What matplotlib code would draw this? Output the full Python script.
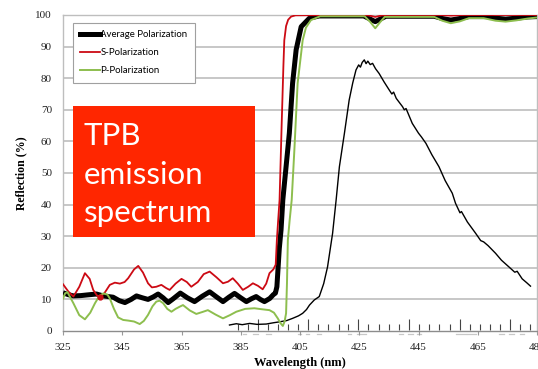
import matplotlib
matplotlib.use("Agg")
import matplotlib.pyplot as plt
from matplotlib.lines import Line2D
from matplotlib.patches import Rectangle

# ---------------- data ----------------
s_wl = [325.0, 326.8, 328.5, 330.5, 332.4, 334.0, 335.2, 336.5, 337.5, 339.0, 340.8, 342.5, 344.2,
        345.8, 347.0, 349.0, 350.4, 352.0, 353.7, 355.0, 356.5, 358.2, 359.8, 361.0, 363.0, 365.0,
        366.8, 368.3, 370.5, 372.5, 374.5, 376.8, 379.0, 380.7, 382.3, 384.0, 385.7, 387.5, 389.1,
        390.8, 392.4, 393.6, 394.7, 396.0, 396.8, 397.2, 397.7, 398.1, 398.8, 399.4, 399.7, 400.3,
        401.0, 402.0, 403.5, 427.0, 428.5, 430.4, 432.3, 434.0, 452.0, 456.0, 460.0, 485.0]
s_val = [14.8, 12.5, 10.9, 14.0, 18.3, 16.5, 13.0, 11.2, 10.7, 12.0, 14.6, 15.3, 15.0,
         15.5, 16.7, 19.5, 20.6, 18.5, 15.1, 13.8, 14.0, 14.6, 13.6, 13.0, 15.0, 16.5,
         15.5, 14.0, 15.5, 18.0, 18.8, 17.0, 15.1, 15.6, 16.7, 15.0, 13.0, 14.0, 15.1,
         14.3, 13.2, 15.0, 18.3, 19.5, 21.0, 29.0, 36.0, 41.5, 65.0, 84.0, 92.0, 96.5,
         98.5, 99.5, 99.9, 100.0, 99.8, 99.4, 99.8, 100.0, 100.0, 99.8, 100.0, 100.0]

avg_wl = [325.0, 326.8, 328.5, 331.0, 333.0, 336.3, 338.6, 341.9, 344.0, 345.9, 348.0, 349.8, 351.8,
          353.7, 355.5, 357.1, 358.8, 360.5, 362.2, 364.6, 367.0, 369.4, 372.0, 374.5, 376.8, 379.0,
          381.0, 382.9, 385.0, 386.9, 388.6, 390.2, 391.6, 393.0, 394.8, 396.0, 396.7, 397.2, 397.6,
          398.0, 398.6, 399.2, 400.3, 401.4, 402.5, 403.7, 405.4, 408.2, 411.5, 426.5, 428.5, 430.4,
          432.3, 434.0, 450.3, 453.0, 455.9, 459.0, 462.0, 468.0, 471.0, 474.4, 478.0, 482.0, 485.0]
avg_val = [12.1, 11.5, 11.1, 11.2, 11.4, 11.7, 11.1, 10.7, 9.6, 9.0, 10.0, 11.1, 10.5,
           10.0, 10.8, 11.7, 10.5, 9.0, 10.2, 12.0, 10.5, 9.3, 11.0, 12.4, 10.8, 9.3,
           10.7, 11.9, 10.5, 9.3, 10.2, 10.9, 10.0, 9.3, 10.3, 11.5, 12.0, 14.0, 20.0,
           26.0, 32.0, 41.5, 52.0, 62.6, 78.4, 89.0, 96.3, 99.0, 99.7, 99.7, 98.8, 97.9,
           98.8, 99.6, 99.6, 98.9, 98.4, 98.9, 99.5, 99.5, 99.0, 98.7, 99.0, 99.4, 99.5]

p_wl = [325.0, 325.7, 326.5, 328.5, 330.5, 332.4, 334.2, 335.8, 337.2, 338.6, 340.0, 340.8, 342.2,
        343.6, 345.3, 347.0, 349.0, 350.9, 352.3, 353.7, 355.2, 356.5, 357.6, 358.8, 360.2, 361.6,
        363.0, 364.4, 365.5, 367.8, 370.0, 372.0, 373.9, 376.5, 379.0, 381.3, 383.5, 386.5, 389.6,
        392.0, 394.7, 396.2, 397.5, 398.4, 399.2, 399.8, 400.3, 400.6, 400.9, 401.5, 402.2, 403.1,
        404.2, 405.9, 407.0, 408.7, 411.8, 426.8, 428.7, 430.4, 432.1, 433.6, 450.3, 453.0, 455.9,
        459.0, 462.0, 467.0, 471.0, 474.4, 478.0, 482.0, 485.0]
p_val = [10.2, 11.9, 12.3, 8.8, 5.0, 3.7, 5.8, 8.8, 11.0, 11.9, 11.5, 10.3, 7.0,
         4.3, 3.5, 3.3, 3.0, 2.2, 3.2, 5.1, 7.8, 9.3, 9.6, 8.8, 7.0, 6.1,
         7.0, 7.7, 8.2, 6.5, 5.4, 6.0, 6.6, 5.2, 4.0, 5.0, 6.1, 7.0, 7.2,
         6.9, 6.6, 5.8, 4.0, 2.5, 1.6, 3.0, 5.6, 15.0, 28.8, 35.0, 41.5, 57.3,
         78.4, 92.0, 96.0, 98.4, 99.6, 99.6, 97.8, 95.8, 97.8, 99.4, 99.4, 98.2, 97.4,
         98.0, 99.0, 99.0, 98.2, 97.9, 98.3, 98.9, 99.2]

em_wl = [381.2, 383.5, 385.5, 388.0, 390.5, 393.6, 396.0, 398.1, 400.5, 402.5, 404.5, 405.9, 407.2,
         408.2, 409.8, 411.5, 413.0, 414.3, 416.0, 417.2, 418.3, 420.0, 421.6, 422.8, 423.9, 424.8,
         425.4, 426.0, 426.7, 427.3, 427.9, 428.7, 429.5, 430.5, 431.7, 433.4, 435.1, 436.0, 436.6,
         437.5, 439.6, 440.2, 440.8, 442.9, 445.0, 446.0, 447.5, 449.5, 451.9, 454.0, 456.4, 457.5,
         459.0, 459.5, 461.5, 464.3, 466.0, 467.0, 468.5, 471.0, 473.0, 475.5, 477.5, 478.3, 480.0,
         481.5, 482.8]
em_val = [1.9, 2.3, 2.0, 2.4, 2.1, 2.2, 2.6, 2.9, 3.3, 4.0, 4.8, 5.6, 6.8,
          8.2, 9.8, 10.9, 15.0, 20.3, 30.9, 41.5, 52.0, 62.6, 73.1, 78.5, 82.6, 84.2,
          83.5, 85.0, 85.8, 84.6, 85.4, 84.3, 84.7, 83.0, 81.5, 78.8, 76.3, 75.0, 75.6,
          73.6, 71.0, 70.0, 70.4, 65.7, 62.6, 61.4, 59.4, 55.8, 52.0, 47.6, 43.6, 40.4,
          37.4, 37.8, 34.5, 30.9, 28.6, 28.2, 27.0, 24.6, 22.4, 20.3, 18.6, 18.9, 16.5,
          15.3, 14.2]

# ticks of the overlaid emission-spectrum axis (wavelength positions)
em_major = [390.7, 407.8, 424.7, 441.8, 459.0, 475.8]
em_minor = [384.0, 387.3, 394.1, 397.5, 400.9, 404.4, 411.2, 414.6, 418.0, 421.3, 428.1, 431.5,
            434.9, 438.4, 445.2, 448.6, 452.0, 455.6, 462.4, 465.7, 469.1, 472.4, 479.2, 482.6]
# cut-off label fragments of the overlaid axis
frag = [(385.7, 386.9), (389.1, 390.8), (393.6, 395.3), (404.2, 405.4), (407.0, 408.2),
        (410.9, 412.1), (421.1, 422.2), (424.4, 427.3), (438.5, 439.6), (441.3, 443.0),
        (444.6, 445.8), (457.6, 460.9), (461.5, 464.3), (472.1, 473.8), (475.5, 477.2),
        (479.4, 480.6)]

x_ticks = [325, 345, 365, 385, 405, 425, 445, 465, 485]
y_ticks = [0, 10, 20, 30, 40, 50, 60, 70, 80, 90, 100]
legend_labels = ["Average Polarization", "S-Polarization", "P-Polarization"]
box_lines = ["TPB", "emission", "spectrum"]

# ---------------- figure ----------------
W, H = 538, 369
fig = plt.figure(figsize=(W / 100, H / 100), dpi=100)
ax = fig.add_axes([63 / W, (H - 331) / H, (537 - 63) / W, (331 - 15) / H])
ax.set_xlim(325, 485)
ax.set_ylim(0, 100)

grid_c = "#BEBEBE"
for y in y_ticks[1:]:
    ax.axhline(y, color=grid_c, lw=1.2, zorder=0)

for side in ["left", "right", "top"]:
    ax.spines[side].set_color(grid_c)
    ax.spines[side].set_linewidth(1.0)
ax.spines["bottom"].set_color("#8C8C8C")
ax.spines["bottom"].set_linewidth(1.0)

serif = "Liberation Serif"
ax.set_xticks(x_ticks)
ax.set_yticks(y_ticks)
ax.set_xticklabels([str(v) for v in x_ticks], family=serif, fontsize=8, color="#222222")
ax.set_yticklabels([str(v) for v in y_ticks], family=serif, fontsize=8, color="#222222")
ax.tick_params(axis="x", direction="out", length=3, color="#999999", pad=6)
ax.tick_params(axis="y", length=0, pad=8)

ax.set_xlabel("Wavelength (nm)", family=serif, fontweight="bold", fontsize=9, labelpad=3)
ax.set_ylabel("Reflection (%)", family=serif, fontweight="bold", fontsize=8.5, labelpad=6)

# overlaid emission axis ticks
ax.vlines(em_major, 0.3, 3.7, color="#444444", lw=0.8, zorder=2)
ax.vlines(em_minor, 0.3, 2.2, color="#444444", lw=0.8, zorder=2)
for a, b in frag:
    ax.plot([a, b], [-0.8, -0.8], color="#C8C8C8", lw=0.9, clip_on=False, zorder=1)

# curves
ax.plot(em_wl, em_val, color="black", lw=1.0, zorder=3)
ax.plot(avg_wl, avg_val, color="black", lw=3.6, solid_capstyle="butt", zorder=4)
ax.plot(s_wl, s_val, color="#CC0A14", lw=1.3, zorder=5)
ax.plot(p_wl, p_val, color="#8DBE4E", lw=1.4, zorder=5)
ax.plot([337.5], [10.7], "o", color="#CC0A14", ms=3.5, zorder=6)

# legend
handles = [Line2D([], [], color="black", lw=3.6),
           Line2D([], [], color="#CC0A14", lw=1.3),
           Line2D([], [], color="#8DBE4E", lw=1.4)]
leg = ax.legend(handles, legend_labels,
                loc="upper left", bbox_to_anchor=((73 - 63) / (537 - 63), (331 - 23) / (331 - 15)),
                prop={"family": "Lato", "size": 6.9}, handlelength=2.1, handletextpad=0.0,
                labelspacing=0.95, borderpad=0.75, fancybox=False, framealpha=1,
                edgecolor="#A0A0A0", borderaxespad=0)
leg.get_frame().set_linewidth(0.8)
leg.set_zorder(7)

# red annotation box
fig.patches.append(Rectangle((73 / W, (H - 237) / H), (255 - 73) / W, (237 - 106) / H,
                             transform=fig.transFigure, facecolor="#FF2600", edgecolor="none",
                             zorder=8))
for txt, base in zip(box_lines, [145, 184, 222]):
    fig.text(84 / W, (H - base) / H, txt, color="white", family="Lato",
             fontsize=22.5, va="baseline", ha="left", zorder=9)

fig.savefig("out.png", dpi=100)
